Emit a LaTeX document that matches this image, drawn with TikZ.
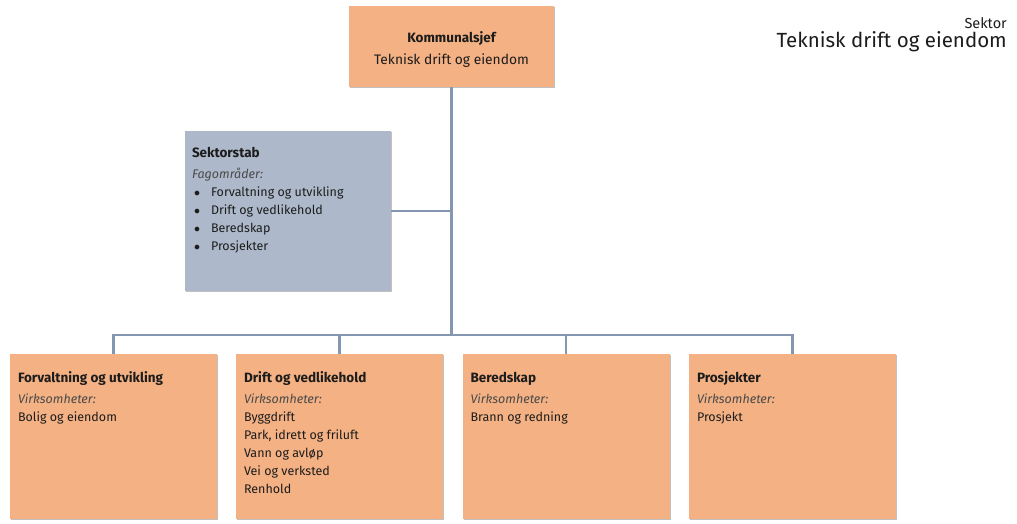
\documentclass[tikz,border=0pt]{standalone}
\usepackage{fontspec}
\setmainfont{Fira Sans}
\usetikzlibrary{shadows,calc}
\definecolor{boxorange}{HTML}{F4B183}
\definecolor{boxblue}{HTML}{ADB9CA}
\definecolor{linecol}{HTML}{8497B0}
\definecolor{txt}{HTML}{1C1C1C}
\definecolor{txtit}{HTML}{4A4A4A}
\tikzset{
  orgbox/.style={draw=none, rectangle, inner sep=0pt,
    drop shadow={shadow xshift=1.3pt, shadow yshift=-1.3pt, opacity=0.35, fill=black!70}},
  orangebox/.style={orgbox, fill=boxorange, minimum width=207pt, minimum height=165pt},
  bluebox/.style={orgbox, fill=boxblue, minimum width=206pt, minimum height=160pt},
  topbox/.style={orgbox, fill=boxorange, minimum width=205pt, minimum height=81pt},
  conn/.style={draw=linecol, line width=2.2pt},
  boxtext/.style={inner sep=0pt, anchor=north west, align=left, text=txt,
    font=\fontsize{12.5}{18}\selectfont},
}
\newcommand{\vh}{{\color{txtit}\itshape Virksomheter:}}
\newcommand{\ttl}[1]{{\fontsize{13.5}{18}\selectfont\bfseries #1}}
\newcommand{\bul}{\makebox[19pt][l]{\hspace{2pt}$\bullet$}}
\begin{document}
\begin{tikzpicture}[x=1pt,y=-1pt]
\useasboundingbox (0,0) rectangle (1017,523);
% boxes
\node[topbox] (top) at (451.5,46.5) {};
\node[bluebox] (stab) at (288,211) {};
\node[orangebox] (b1) at (113.5,436.5) {};
\node[orangebox] (b2) at (339.5,436.5) {};
\node[orangebox] (b3) at (566,436.5) {};
\node[orangebox] (b4) at (792.5,436.5) {};
% connectors
\path (b1.north) ++(0,-19) coordinate (j1);
\path (b4.north) ++(0,-19) coordinate (j4);
\draw[conn] (b1.north) -- (j1) -- (j4) -- (b4.north);
\draw[conn] (top.south) -- (top.south |- j1);
\draw[conn] (b2.north) -- (b2.north |- j1);
\draw[conn] (b3.north) -- (b3.north |- j1);
\draw[conn] (stab.east) -- (stab.east -| top.south);
% top box text
\node[inner sep=0pt, anchor=base, text=txt, font=\fontsize{13.5}{15}\selectfont\bfseries] (topt1) at (451.5,42.5) {Kommunalsjef};
\node[inner sep=0pt, anchor=base, text=txt, font=\fontsize{13.8}{15}\selectfont] (topt2) at (451.5,64) {Teknisk drift og eiendom};
% header
\node[inner sep=0pt, anchor=base east, text=txt, font=\fontsize{14.5}{16}\selectfont] (hd1) at (1007,28) {Sektor};
\node[inner sep=0pt, anchor=base east, text=txt, font=\fontsize{20.5}{22}\selectfont] (hd2) at (1007,47) {Teknisk drift og eiendom};
% sektorstab text
\node[boxtext] (stabt) at ($(stab.north west)+(7,16)$) {\ttl{Sektorstab}\\[3pt]
{\color{txtit}\itshape Fagområder:}\\
\bul Forvaltning og utvikling\\
\bul Drift og vedlikehold\\
\bul Beredskap\\
\bul Prosjekter};
% bottom box texts
\node[boxtext] (t1) at ($(b1.north west)+(8,18)$) {\ttl{Forvaltning og utvikling}\\[3pt]
\vh\\ Bolig og eiendom};
\node[boxtext] (t2) at ($(b2.north west)+(8,18)$) {\ttl{Drift og vedlikehold}\\[3pt]
\vh\\ Byggdrift\\ Park, idrett og friluft\\ Vann og avløp\\ Vei og verksted\\ Renhold};
\node[boxtext] (t3) at ($(b3.north west)+(8,18)$) {\ttl{Beredskap}\\[3pt]
\vh\\ Brann og redning};
\node[boxtext] (t4) at ($(b4.north west)+(8,18)$) {\ttl{Prosjekter}\\[3pt]
\vh\\ Prosjekt};
\end{tikzpicture}
\end{document}
